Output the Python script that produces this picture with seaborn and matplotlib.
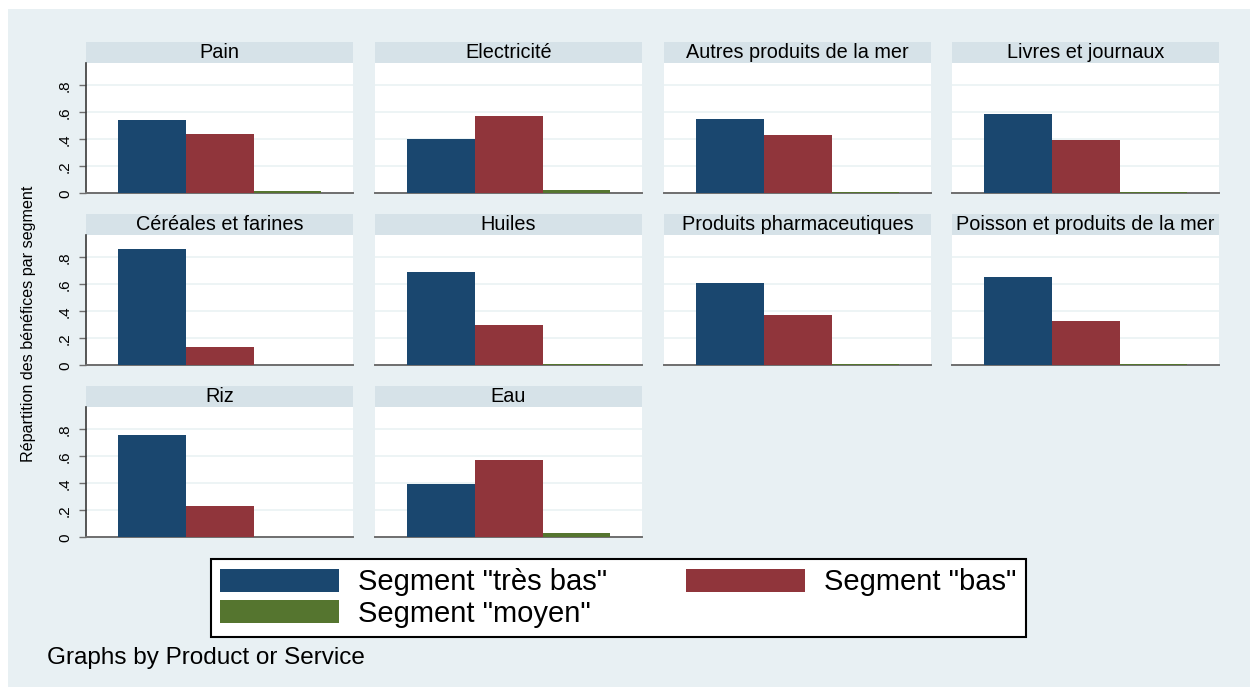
import numpy as np
import pandas as pd
import matplotlib
matplotlib.use("Agg")
import matplotlib.pyplot as plt
from matplotlib.patches import Rectangle, Patch
import seaborn as sns

# ---------------- data ----------------
products = ["Pain", "Electricité", "Autres produits de la mer", "Livres et journaux",
            "Céréales et farines", "Huiles", "Produits pharmaceutiques",
            "Poisson et produits de la mer", "Riz", "Eau"]
segments = ['Segment "très bas"', 'Segment "bas"', 'Segment "moyen"']
tres_bas = [0.543, 0.400, 0.550, 0.587, 0.865, 0.694, 0.612, 0.656, 0.761, 0.396]
bas      = [0.439, 0.573, 0.432, 0.397, 0.136, 0.300, 0.374, 0.329, 0.233, 0.575]
moyen    = [0.018, 0.025, 0.013, 0.011, 0.005, 0.011, 0.011, 0.011, 0.005, 0.033]
ytick_values = [0, 0.2, 0.4, 0.6, 0.8]
ytick_labels = ["0", ".2", ".4", ".6", ".8"]
y_label = "Répartition des bénéfices par segment"
note = "Graphs by Product or Service"

colors = ["#1A476F", "#90353B", "#55752F"]
bg_color = "#E8F0F3"
strip_color = "#D6E2E8"
grid_color = "#EAF2F3"

rows = []
for i, p in enumerate(products):
    for s, vals in zip(segments, [tres_bas, bas, moyen]):
        rows.append({"product": p, "segment": s, "value": vals[i]})
df = pd.DataFrame(rows)

# ---------------- figure ----------------
plt.rcParams["font.family"] = ["Liberation Sans", "DejaVu Sans"]
W, H = 1250, 687
fig = plt.figure(figsize=(W / 100, H / 100), dpi=100)
fig.patch.set_facecolor("white")
fig.patches.append(Rectangle((8 / W, 0), 1 - 8 / W, 1 - 9 / H, transform=fig.transFigure,
                             facecolor=bg_color, edgecolor="none", zorder=-10))


def rect(x0, ytop, w, h):
    return [x0 / W, 1 - (ytop + h) / H, w / W, h / H]


col_x = [86, 375, 664, 952]
row_top = [63, 235, 407]
pw, ph, sh = 267, 130.3, 21

for i, p in enumerate(products):
    r, c = divmod(i, 4)
    x0, yt = col_x[c], row_top[r]
    # strip
    sax = fig.add_axes(rect(x0, yt - sh, pw, sh))
    sax.set_facecolor(strip_color)
    sax.set_xticks([]); sax.set_yticks([])
    for sp in sax.spines.values():
        sp.set_visible(False)
    sax.text(0.5, 0.5, p, ha="center", va="center", fontsize=14.3, transform=sax.transAxes)

    ax = fig.add_axes(rect(x0, yt, pw, ph))
    sub = df[df["product"] == p]
    sns.barplot(data=sub, x="segment", y="value", hue="segment", order=segments,
                hue_order=segments, palette=colors, width=1, dodge=False, legend=False,
                saturation=1, linewidth=0, ax=ax)
    for patch in ax.patches:
        patch.set_zorder(3)
    ax.set_facecolor("white")
    ax.set_xlim(-0.975, 2.97)
    ax.set_ylim(0, 0.965)
    ax.set_yticks(ytick_values)
    ax.yaxis.grid(True, color=grid_color, linewidth=1.2)
    ax.set_axisbelow(True)
    ax.set_xlabel(""); ax.set_ylabel("")
    ax.set_xticks([])
    ax.spines["top"].set_visible(False)
    ax.spines["right"].set_visible(False)
    ax.spines["bottom"].set_color("#6E6E6E")
    ax.spines["bottom"].set_linewidth(1.4)
    if c == 0:
        ax.spines["left"].set_color("#3A3A3A")
        ax.spines["left"].set_linewidth(1.2)
        ax.set_yticklabels(ytick_labels, rotation=90, va="center", fontsize=11)
        ax.tick_params(axis="y", length=5, width=1, color="#6E6E6E", pad=5)
    else:
        ax.spines["left"].set_visible(False)
        ax.tick_params(axis="y", length=0, labelleft=False)

fig.text(29 / W, 1 - 324 / H, y_label, rotation=90, ha="center", va="center", fontsize=11.6)

handles = [Patch(facecolor=colors[0], edgecolor="none"),
           Patch(facecolor=colors[2], edgecolor="none"),
           Patch(facecolor=colors[1], edgecolor="none")]
labels = [segments[0], segments[2], segments[1]]
leg = fig.legend(handles, labels, loc="upper left", bbox_to_anchor=(211 / W, 1 - 559 / H),
                 ncol=2, frameon=True, fancybox=False, edgecolor="black", framealpha=1,
                 fontsize=21, handlelength=4.08, handleheight=0.82, handletextpad=0.65,
                 columnspacing=2.7, borderpad=0.32, labelspacing=0.12, borderaxespad=0)
leg.get_frame().set_linewidth(1.5)

fig.text(47 / W, 1 - 658 / H, note, ha="left", va="center", fontsize=17.5)

fig.savefig("out.png", dpi=100, facecolor="white")
